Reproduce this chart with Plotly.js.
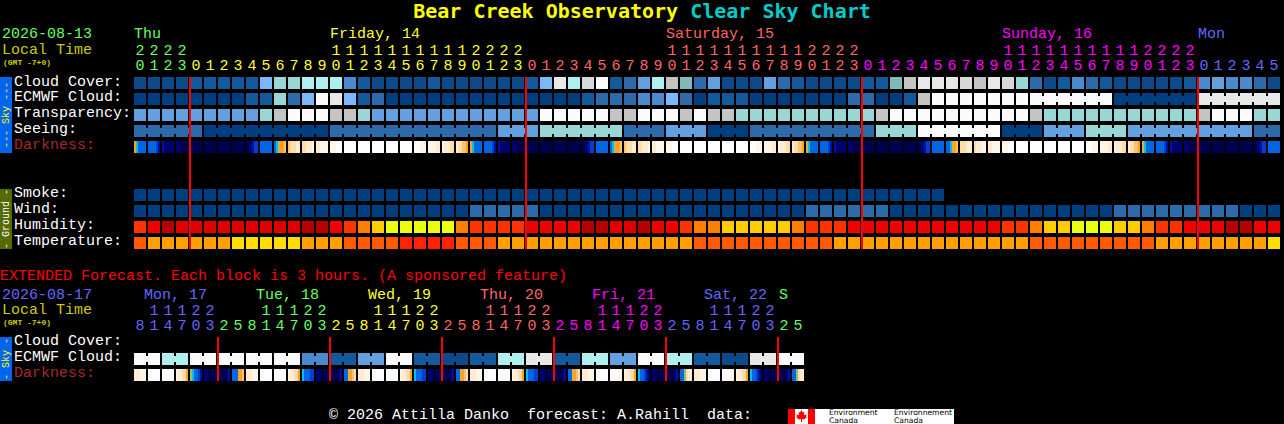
<!DOCTYPE html>
<html><head><meta charset="utf-8">
<script src="https://cdn.plot.ly/plotly-3.0.1.min.js"></script>
<style>html,body{margin:0;padding:0;background:#000;overflow:hidden}#chart{width:1284px;height:424px}</style>
</head><body><div id="chart"></div>
<script>
// ---------- palettes (level -> colour) ----------
const cloudPalette = ['#003f7f','#0c4a8a','#135a9c','#2c6aaa','#4a8bd0','#63a0e0','#7ab7fb','#7fbbbb','#99d6d6','#aef0f0','#c4c4c4','#d8d8d8','#e8e8e8','#fbfbfb'];
const humidityPalette = ['#b80000','#e00000','#f00000','#ff3300','#ff8000','#ffcc00','#eaff10'];
const temperaturePalette = ['#ff2200','#ff5a00','#ffa000','#ffdd00'];
const darknessPalette = ['#000050','#000070','#0010a0','#0040d0','#0066e8','#00c0e8','#90c070','#e0b030','#ffa020','#ffc070','#ffdca8','#ffecd0','#fff6e8','#ffffff'];

// ---------- 82 hourly blocks ----------
const hours = [20,21,22,23,0,1,2,3,4,5,6,7,8,9,10,11,12,13,14,15,16,17,18,19,20,21,22,23,0,1,2,3,4,5,6,7,8,9,10,11,12,13,14,15,16,17,18,19,20,21,22,23,0,1,2,3,4,5,6,7,8,9,10,11,12,13,14,15,16,17,18,19,20,21,22,23,0,1,2,3,4,5];
const hourDayColors = ['#66ff66','#ffff33','#ff6666','#ff00ff','#6666ff'];
const hourDaySpans = [4,24,24,24,6];
const cloudCover = [1,1,1,1,2,2,2,2,2,6,8,8,9,9,9,4,2,1,1,1,1,2,1,1,1,1,1,1,2,6,12,9,11,13,2,3,5,9,10,7,3,5,1,1,1,5,3,2,1,1,1,1,2,2,7,10,12,12,12,11,10,12,11,8,3,1,2,4,3,2,1,1,1,1,1,2,4,5,4,4,3,1];
const ecmwfCloud = [0,0,0,0,0,0,0,0,2,2,8,3,6,13,12,6,2,3,0,0,0,0,0,0,0,0,0,0,0,0,0,0,2,3,3,3,4,4,6,3,0,2,2,2,0,0,0,0,0,0,0,3,3,0,0,2,10,13,13,13,13,13,13,13,13,13,13,13,13,13,0,0,0,0,0,0,12,12,12,12,12,12];
const ecmwfGroupedFrom = 64;
const transparency = [5,5,5,5,5,5,5,5,5,8,10,13,13,13,10,10,8,5,5,5,5,5,5,5,5,5,5,5,5,13,13,13,13,13,10,10,13,13,13,10,13,10,10,8,8,8,8,8,8,8,8,8,8,10,13,13,13,13,13,13,13,13,13,13,10,8,8,8,8,8,8,8,8,8,8,8,10,13,13,13,8,8];
const seeing = [3,3,3,3,3,0,0,0,0,0,0,0,0,0,3,3,3,3,3,3,3,3,3,3,3,3,5,5,5,8,8,8,8,8,8,3,3,3,5,5,5,0,0,0,3,3,3,3,3,3,3,3,3,8,8,8,13,13,13,13,13,13,0,0,0,5,5,5,8,8,8,5,5,5,5,5,5,5,5,5,3,3];
const darkness = ['854444','444432','211111','110000','000000','000000','000000','000000','011233','444444','457889','9aaabb','aabbbc','bbcccc','cccddd','dddddd','dddddd','dddddd','dddddd','dddddd','dddccc','ccccbb','cbbbaa','baa998',
 '854444','444432','211111','110000','000000','000000','000000','000000','011233','444444','457889','9aaabb','aabbbc','bbcccc','cccddd','dddddd','dddddd','dddddd','dddddd','dddddd','dddccc','ccccbb','cbbbaa','baa998',
 '754444','444432','211111','110000','000000','000000','000000','000000','011233','444444','445889','aaabbb','abbbcc','bbcccc','cccddd','dddddd','dddddd','dddddd','dddddd','dddddd','dddccc','ccccbb','cbbbaa','baa998',
 '754444','444432','211111','110000','000000','000000','000000','000000','011233','444444'];
const smoke = [0,0,0,0,0,0,0,0,0,0,0,0,0,0,0,0,0,0,0,0,0,0,0,0,0,0,0,0,0,0,0,0,0,0,0,0,0,0,0,0,0,0,0,0,0,0,0,0,0,0,0,0,0,0,0,0,0,0];
const wind = [0,0,0,0,0,0,0,0,0,0,0,0,0,0,0,0,0,0,0,0,0,0,0,0,3,3,3,3,3,0,0,0,0,0,0,0,0,0,0,0,0,0,0,0,0,0,0,0,3,3,3,3,3,3,0,0,0,0,0,0,0,0,0,0,0,0,0,0,0,0,3,3,3,3,3,3,3,3,3,0,0,0];
const humidity = [3,2,0,1,1,1,1,1,1,1,1,1,0,0,2,3,4,5,6,6,6,6,6,4,3,3,3,3,2,2,2,2,0,0,1,1,0,2,2,3,4,4,5,5,5,5,5,4,3,3,3,2,2,2,2,2,2,2,2,2,2,2,3,3,4,5,5,6,6,6,5,5,4,3,3,2,2,2,0,0,2,2];
const temperature = [1,2,2,2,2,2,2,3,3,3,3,3,2,2,2,1,1,1,1,0,0,0,0,1,1,1,2,2,2,2,2,2,2,2,2,2,2,2,2,2,1,1,1,1,1,1,1,1,1,1,2,2,2,2,2,2,2,2,2,2,2,2,2,2,1,1,1,1,1,1,1,1,1,2,2,2,2,2,2,2,2,3];
const midnightBlocks = [4,28,52,76];

// ---------- extended forecast: 48 blocks ----------
const extHours = [8,11,14,17,20,23,2,5,8,11,14,17,20,23,2,5,8,11,14,17,20,23,2,5,8,11,14,17,20,23,2,5,8,11,14,17,20,23,2,5,8,11,14,17,20,23,2,5];
const extDayColors = ['#6666ff','#66ff66','#ffff33','#ff6666','#ff00ff','#6666ff','#66ff66'];
const extDaySpans = [6,8,8,8,8,8,2];
const extEcmwfPairs = [13,9,13,13,13,13,4,2,5,13,2,1,2,9,12,2,9,5,13,9,2,1,12,13];
const extDarkness = ['bbbccc','dddddd','dddddd','cbbaa8','654432','110000','000012','444889',
 'bbbccc','dddddd','dddddd','cbbaa8','544433','110000','000012','44789a',
 'bbbccc','dddddd','dddddd','cbbaa8','544433','110000','000012','44789a',
 'bbbccc','dddddd','dddddd','cbbaa8','544433','110000','000012','44789a',
 'bbbccc','dddddd','ddddcc','cbbaa8','544321','110000','000012','446abb',
 'bbbccc','dddddd','ddddcc','cbbaa8','544321','110000','000012','446abb'];
const extMidnightBlocks = [6,14,22,30,38,46];

// ---------- text ----------
const rowLabels = ['Cloud Cover:','ECMWF Cloud:','Transparency:','Seeing:','Darkness:'];
const groundLabels = ['Smoke:','Wind:','Humidity:','Temperature:'];
const mainDays = [['Thu',0,'#66ff66'],['Friday, 14',14,'#ffff33'],['Saturday, 15',38,'#ff6666'],['Sunday, 16',62,'#ff00ff'],['Mon',76,'#6666ff']];
const extDays = [['Mon, 17',144,'#6666ff'],['Tue, 18',256,'#66ff66'],['Wed, 19',368,'#ffff33'],['Thu, 20',480,'#ff6666'],['Fri, 21',592,'#ff00ff'],['Sat, 22',704,'#6666ff'],['S',779,'#66ff66']];

// ---------- scales ----------
const W = 1284, H = 424, MONO = '"DejaVu Sans Mono", monospace', THIN = '"Liberation Mono", monospace';
const rowOf = py => (py - 83) / 16;           // row units, 16 px pitch
const idx = a => a.map((_, i) => i);
const fromHex = s => s.split('').map(c => parseInt(c, 16));
const spread = (spans, vals) => spans.flatMap((n, k) => Array(n).fill(vals[k]));
const scale = p => p.map((c, i) => [i / (p.length - 1), c]);

const traces = [];
function cells(py, values, palette) {
  traces.push({type:'heatmap', x:idx(values), y:[rowOf(py)], z:[values], xgap:2, ygap:4,
    colorscale:scale(palette), zmin:0, zmax:palette.length-1, showscale:false, hoverinfo:'skip'});
}
function bridges(py, values, palette, from, sameGroup) {
  let s = from;
  for (let i = from + 1; i <= values.length; i++) {
    if (i === values.length || values[i] !== values[s] || (sameGroup && !sameGroup(s, i))) {
      if (i - 1 > s) traces.push({type:'scatter', mode:'lines', x:[s, i-1], y:[rowOf(py), rowOf(py)],
        line:{color:palette[values[s]], width:6}, hoverinfo:'skip', showlegend:false});
      s = i;
    }
  }
}
function gradient(py, samples) {
  const n = samples.length, edges = [], z = [];
  samples.forEach((c, i) => {
    const v = fromHex(c);
    v.forEach((d, k) => { edges.push(i - 0.5 + 1/14 + k/7); z.push(d); });
    edges.push(i - 0.5 + 13/14); z.push(null);
  });
  edges.push(n - 0.5 + 1/14);
  traces.push({type:'heatmap', x:edges, y:[rowOf(py)], z:[z], ygap:4, colorscale:scale(darknessPalette),
    zmin:0, zmax:darknessPalette.length-1, showscale:false, hoverinfo:'skip'});
}
function digits(py, xs, labels, colors) {
  traces.push({type:'scatter', mode:'text', x:xs, y:xs.map(() => rowOf(py)), text:labels,
    textposition:'middle center', textfont:{family:THIN, size:15, color:colors}, hoverinfo:'skip', showlegend:false});
}

// main rows
cells(83, cloudCover, cloudPalette);
cells(99, ecmwfCloud, cloudPalette);  bridges(99, ecmwfCloud, cloudPalette, ecmwfGroupedFrom);
cells(115, transparency, cloudPalette);
cells(131, seeing, cloudPalette);     bridges(131, seeing, cloudPalette, 0);
gradient(147, darkness);
cells(195, smoke, cloudPalette);
cells(211, wind, cloudPalette);
cells(227, humidity, humidityPalette);
cells(243, temperature, temperaturePalette);

// extended rows
const extEcmwf = extEcmwfPairs.flatMap(v => [v, v]);
cells(359, extEcmwf, cloudPalette);
bridges(359, extEcmwf, cloudPalette, 0, (a, b) => Math.floor(a/2) === Math.floor(b/2));
gradient(375, extDarkness);

// hour digits
const DIGIT_SHIFT = 1.5;
const hourColors = spread(hourDaySpans, hourDayColors);
const tensIdx = idx(hours).filter(i => hours[i] >= 10);
digits(65 + DIGIT_SHIFT, idx(hours), hours.map(h => String(h % 10)), hourColors);
digits(50 + DIGIT_SHIFT, tensIdx, tensIdx.map(i => String(Math.floor(hours[i] / 10))), tensIdx.map(i => hourColors[i]));
const extColors = spread(extDaySpans, extDayColors);
const extTens = idx(extHours).filter(i => extHours[i] >= 10);
digits(325 + DIGIT_SHIFT, idx(extHours), extHours.map(h => String(h % 10)), extColors);
digits(310 + DIGIT_SHIFT, extTens, extTens.map(i => String(Math.floor(extHours[i] / 10))), extTens.map(i => extColors[i]));

// ---------- annotations & shapes ----------
const px = x => x / W, py = y => 1 - y / H;
const anns = [];
function label(text, x, y, color, size, opts) {
  anns.push(Object.assign({text, xref:'paper', yref:'paper', x:px(x), y:py(y), xanchor:'left', yanchor:'middle',
    showarrow:false, borderpad:0, borderwidth:0, font:{family:THIN, size:size||15, color}}, opts||{}));
}
label('2026-08-13', 2, 35, '#66ff66');
label('Local Time', 2, 50, '#cccc00');
label('<b>(GMT -7+0)</b>', 3, 62, '#cccc00', 8);
mainDays.forEach(d => label(d[0], 134 + 14*d[1], 35, d[2]));
rowLabels.forEach((t, i) => label(t, 14, 82 + 16*i - (i===0?0:0.5), i === 4 ? '#a52a2a' : '#ffffff'));
groundLabels.forEach((t, i) => label(t, 14, 193 + 16*i, '#ffffff'));
label('EXTENDED Forecast. Each block is 3 hours. (A sponsored feature)', 0, 276, '#ff0000');
label('2026-08-17', 2, 295, '#6666ff');
label('Local Time', 2, 310, '#cccc00');
label('<b>(GMT -7+0)</b>', 3, 322, '#cccc00', 8);
extDays.forEach(d => label(d[0], d[1], 295, d[2]));
label(rowLabels[0], 14, 341, '#ffffff');
label(rowLabels[1], 14, 357, '#ffffff');
label(rowLabels[4], 14, 373, '#a52a2a');
label('©\u00a02026\u00a0Attilla\u00a0Danko\u00a0\u00a0forecast:\u00a0A.Rahill\u00a0\u00a0data:', 329, 415, '#ffffff');
const SIDE = {xanchor:'center', textangle:-90};
label('---\u00a0Sky\u00a0---', 6, 115, '#ffff00', 10, SIDE);
label('-\u00a0Ground\u00a0-', 6, 219, '#ffffff', 10, SIDE);
label('-\u00a0Sky\u00a0-', 6, 359, '#ffff00', 10, SIDE);
const EC = {font:{family:'"DejaVu Sans", sans-serif', size:7.6, color:'#000000'}};
label('Environment', 829, 412.2, '#000', 7.6, EC);
label('Canada', 829, 420.8, '#000', 7.6, EC);
label('Environnement', 894, 412.2, '#000', 7.6, EC);
label('Canada', 894, 420.8, '#000', 7.6, EC);

const rect = (x0, y0, x1, y1, color) => ({type:'rect', xref:'paper', yref:'paper', x0:px(x0), x1:px(x1), y0:py(y0), y1:py(y1),
  fillcolor:color, line:{width:0}, layer:'below'});
const redLine = (i, y0, y1) => ({type:'line', xref:'x', yref:'y', x0:i-3/7, x1:i-3/7, y0:rowOf(y0), y1:rowOf(y1),
  line:{color:'#ff0000', width:2}, layer:'above'});
const leafPts = [[801.5,410],[803,412.5],[804.5,412],[804,415],[806.5,414.5],[806,416.5],[807,417],[804,419.5],[802,419],[802,422],[801,422],[801,419],[799,419.5],[796,417],[797,416.5],[796.5,414.5],[799,415],[798.5,412],[800,412.5]];
const leafPath = 'M' + leafPts.map(p => px(p[0]) + ',' + py(p[1])).join('L') + 'Z';
const shapes = [
  rect(0,77,12,153,'#0066ee'), rect(0,189,12,249,'#556b00'), rect(0,337,12,381,'#0066ee'),
  rect(815,409,954,424,'#ffffff'), rect(795,409,808,424,'#ffffff'), rect(788,409,795,424,'#ff0000'), rect(808,409,815,424,'#ff0000'),
  {type:'path', xref:'paper', yref:'paper', path:leafPath, fillcolor:'#ff0000', line:{width:0}, layer:'above'},
  ...midnightBlocks.map(i => redLine(i, 77, 249)),
  ...extMidnightBlocks.map(i => redLine(i, 337, 381))
];

const axis = {visible:false, showgrid:false, zeroline:false, fixedrange:true};
Plotly.newPlot('chart', traces, {
  width:W, height:H, margin:{l:0,r:0,t:0,b:0,pad:0}, showlegend:false,
  paper_bgcolor:'#000', plot_bgcolor:'#000',
  title:{text:'<span style="color:#ffff00">Bear Creek Observatory</span> <span style="color:#00cccc">Clear Sky Chart</span>',
    x:0.5, xanchor:'center', xref:'paper', y:1-11/H, yanchor:'middle', yref:'container',
    font:{family:MONO, size:20, weight:700, color:'#ffff00'}},
  xaxis:Object.assign({range:[-10, (W-140)/14]}, axis),
  yaxis:Object.assign({range:[rowOf(H), rowOf(0)]}, axis),
  annotations:anns, shapes
}, {displayModeBar:false, staticPlot:true});
</script></body></html>
